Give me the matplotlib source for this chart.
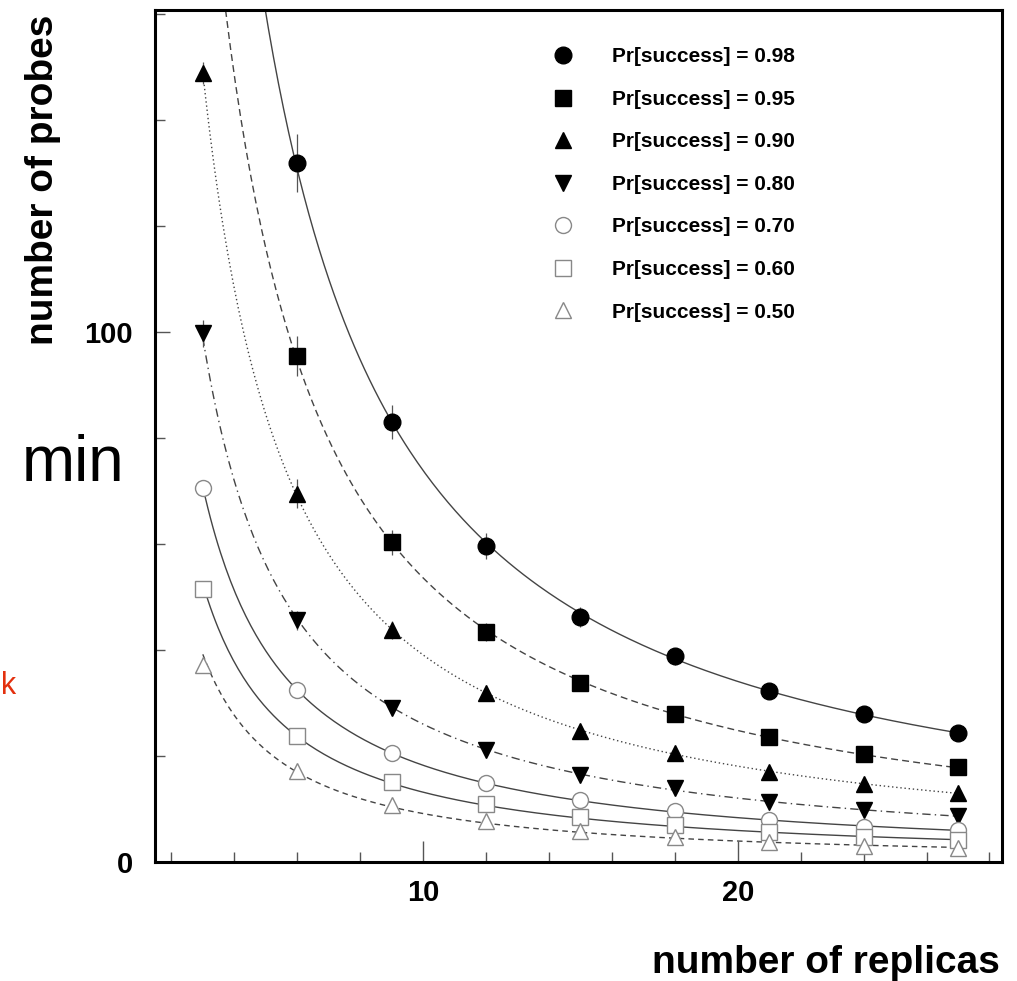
import numpy as np
import matplotlib.pyplot as plt
from matplotlib.lines import Line2D
from matplotlib.ticker import MultipleLocator

plt.rcParams['font.family'] = ['Liberation Sans', 'DejaVu Sans']

# replicas (x) and measured number of probes for each success probability
replicas = [3, 6, 9, 12, 15, 18, 21, 24, 27]
labels = ['Pr[success] = 0.98', 'Pr[success] = 0.95', 'Pr[success] = 0.90',
          'Pr[success] = 0.80', 'Pr[success] = 0.70', 'Pr[success] = 0.60',
          'Pr[success] = 0.50']
p98 = [np.nan, 131.8, 83.0, 59.6, 46.2, 38.8, 32.3, 28.0, 24.3]
p95 = [np.nan, 95.4, 60.3, 43.3, 33.7, 28.0, 23.5, 20.3, 17.9]
p90 = [148.8, 69.5, 43.7, 31.8, 24.7, 20.5, 17.0, 14.8, 13.0]
p80 = [99.7, 45.6, 29.0, 21.1, 16.4, 14.0, 11.3, 9.9, 8.6]
p70 = [70.5, 32.4, 20.5, 14.9, 11.7, 9.6, 7.9, 6.6, 6.0]
p60 = [51.4, 23.7, 15.0, 10.9, 8.4, 6.9, 5.6, 4.7, 4.1]
p50 = [37.1, 17.1, 10.7, 7.7, 5.8, 4.7, 3.7, 3.0, 2.6]

# error bars
e98 = [0, 5.5, 3.2, 2.4, 1.9, 1.6, 1.3, 1.1, 1.0]
e95 = [0, 3.8, 2.4, 1.7, 1.3, 1.1, 0.9, 0.8, 0.7]
e90 = [2.0, 2.8, 1.7, 1.3, 1.0, 0.8, 0.7, 0.6, 0.5]
e80 = [2.5, 1.8, 1.2, 0.8, 0.7, 0.6, 0.5, 0.4, 0.4]
e70 = [1.5, 1.3, 0.8, 0.6, 0.5, 0.4, 0.3, 0.3, 0.3]
e60 = [1.5, 0.9, 0.6, 0.4, 0.3, 0.3, 0.2, 0.2, 0.2]
e50 = [1.5, 0.7, 0.4, 0.3, 0.2, 0.2, 0.2, 0.1, 0.1]

series = [p98, p95, p90, p80, p70, p60, p50]
errors = [e98, e95, e90, e80, e70, e60, e50]
markers = ['o', 's', '^', 'v', 'o', 's', '^']
filled = [True, True, True, True, False, False, False]
styles = ['-', (0, (5, 3)), (0, (1, 2)), (0, (6, 3, 1, 3)), '-', '-', (0, (4, 3))]
msizes = [12, 11.5, 11, 11, 11.5, 11.5, 11.5]

fig = plt.figure(figsize=(10.17, 9.81), dpi=100)
ax = fig.add_axes([0.1524, 0.1213, 0.8329, 0.8685])

x = np.array(replicas, dtype=float)
handles = []
for y, err, mk, fl, ls, ms in zip(series, errors, markers, filled, styles, msizes):
    y = np.array(y, dtype=float)
    ok = ~np.isnan(y)
    # power-law fit to the points (the smooth model curve)
    b, a = np.polyfit(np.log(x[ok]), np.log(y[ok]), 1)
    xx = np.linspace(3.0, 27, 300)
    ax.plot(xx, np.exp(a) * xx ** b, color='#444444', lw=1.0, linestyle=ls, zorder=1)
    ax.errorbar(x[ok], y[ok], yerr=np.array(err)[ok], fmt='none',
                ecolor='#555555', elinewidth=0.9, capsize=0, zorder=2)
    fc = 'black' if fl else 'white'
    ec = 'black' if fl else '#888888'
    ax.plot(x[ok], y[ok], linestyle='none', marker=mk, markersize=ms,
            markerfacecolor=fc, markeredgecolor=ec, markeredgewidth=1.0, zorder=3)
    handles.append(Line2D([], [], linestyle='none', marker=mk, markersize=ms,
                          markerfacecolor=fc, markeredgecolor=ec, markeredgewidth=1.0))

ax.set_xlim(1.48, 28.4)
ax.set_ylim(0, 160.7)

ax.xaxis.set_major_locator(MultipleLocator(10))
ax.xaxis.set_minor_locator(MultipleLocator(2))
ax.yaxis.set_major_locator(MultipleLocator(100))
ax.yaxis.set_minor_locator(MultipleLocator(20))
ax.tick_params(which='major', direction='in', length=15, width=1.0, color='#555555',
               labelsize=21, pad=12)
ax.tick_params(which='minor', direction='in', length=7, width=1.0, color='#555555')
ax.tick_params(axis='y', which='major', length=11, pad=16)
for lab in ax.get_xticklabels() + ax.get_yticklabels():
    lab.set_fontweight('bold')
for sp in ax.spines.values():
    sp.set_linewidth(2.2)

leg = ax.legend(handles, labels, loc='upper left', bbox_to_anchor=(0.447, 0.966),
                frameon=False, prop={'weight': 'bold', 'size': 15},
                handletextpad=1.35, labelspacing=1.13, borderaxespad=0)

fig.text(0.042, 0.985, 'number of probes', rotation=90, ha='center', va='top',
         fontsize=28, fontweight='bold')
fig.text(0.983, 0.0, 'number of replicas', ha='right', va='bottom',
         fontsize=28, fontweight='bold')

# leftover annotation fragments
fig.text(0.021, 0.51, 'min', ha='left', va='baseline', fontsize=46, color='black')
fig.text(0.0155, 0.293, 'k', ha='right', va='baseline', fontsize=22, color='#e3300e')

fig.savefig('out.png', dpi=100)
